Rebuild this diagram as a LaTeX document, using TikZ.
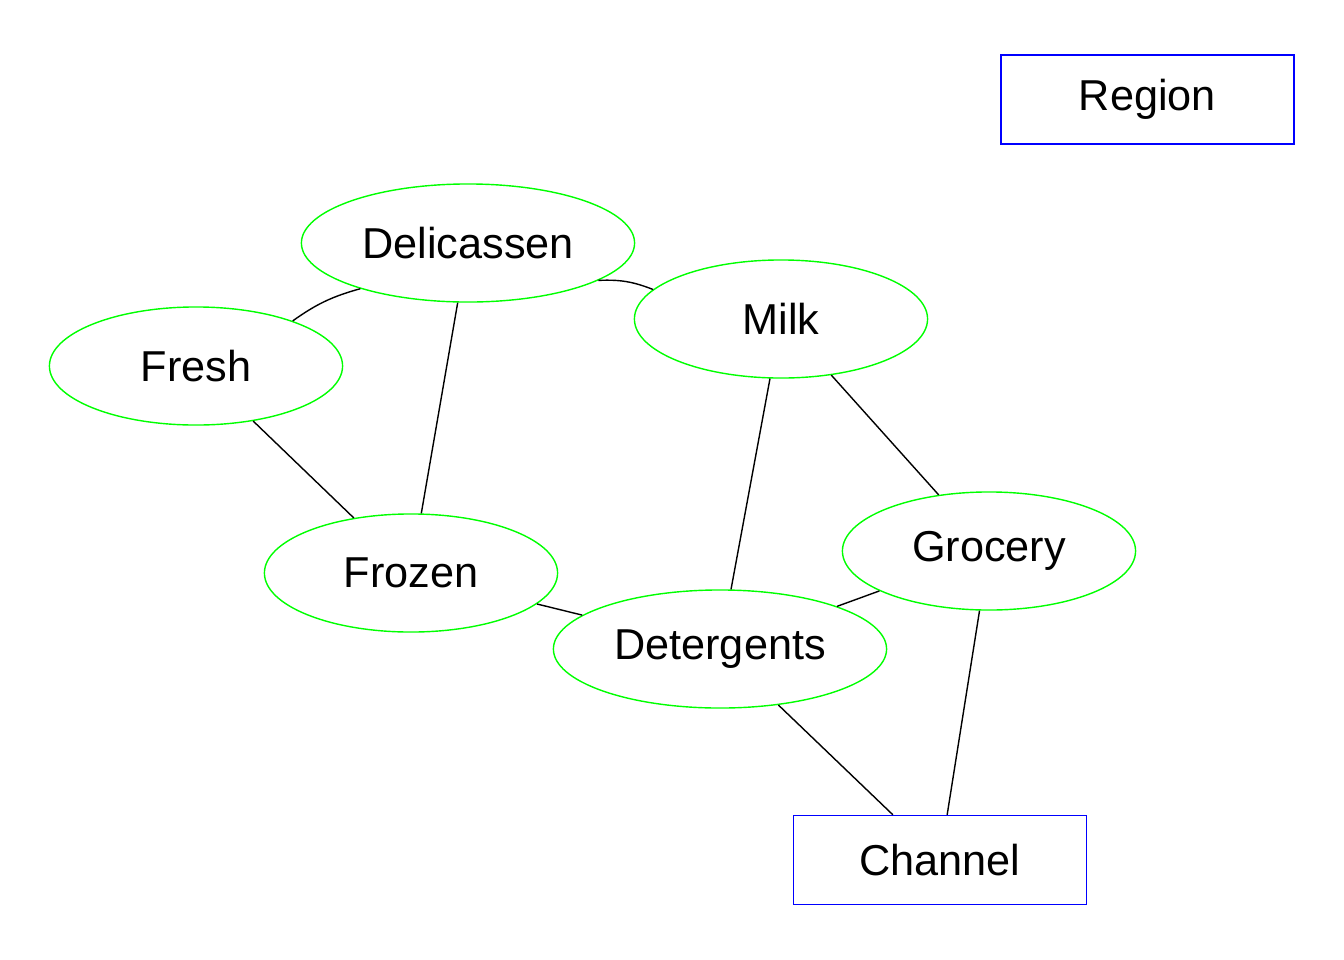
\documentclass[tikz,border=0pt]{standalone}
\usepackage{fontspec}
\setmainfont{Liberation Sans}
\usetikzlibrary{shapes.geometric}
\begin{document}
\begin{tikzpicture}[x=0.01cm,y=-0.01cm,
  every node/.style={font=\fontsize{12.3}{14}\selectfont, inner sep=0pt},
  ell/.style={ellipse, draw={rgb,255:red,0;green,255;blue,0}, line width=0.4pt, minimum width=2.93cm, minimum height=1.18cm},
  wide/.style={minimum width=3.33cm},
  boxn/.style={rectangle, draw={rgb,255:red,0;green,0;blue,255}, line width=0.4pt, minimum width=2.93cm, minimum height=0.89cm},
  edge/.style={draw=black, line width=0.4pt}]
\useasboundingbox[fill=white] (0,0) rectangle (1344,960);
\node[boxn] (region) at (1147.5,99.5) {Region};
\node[ell,wide] (deli) at (468,243) {Delicassen};
\node[ell] (milk) at (781,319) {Milk};
\node[ell] (fresh) at (196,366) {Fresh};
\node[ell] (frozen) at (411,573) {Frozen};
\node[ell] (grocery) at (989,551) {Grocery};
\node[ell,wide] (det) at (720,649) {Detergents};
\node[boxn] (channel) at (940,860) {Channel};
\draw[edge] (deli.203) to[bend right=10] (fresh.25);
\draw[edge] (deli.344) to[bend left=12] (milk.167);
\draw[edge] (deli) -- (frozen);
\draw[edge] (fresh) -- (frozen);
\draw[edge] (milk) -- (det);
\draw[edge] (milk) -- (grocery);
\draw[edge] (frozen) -- (det);
\draw[edge] (grocery) -- (det);
\draw[edge] (det) -- (channel);
\draw[edge] (grocery) -- (channel);
\end{tikzpicture}
\end{document}
